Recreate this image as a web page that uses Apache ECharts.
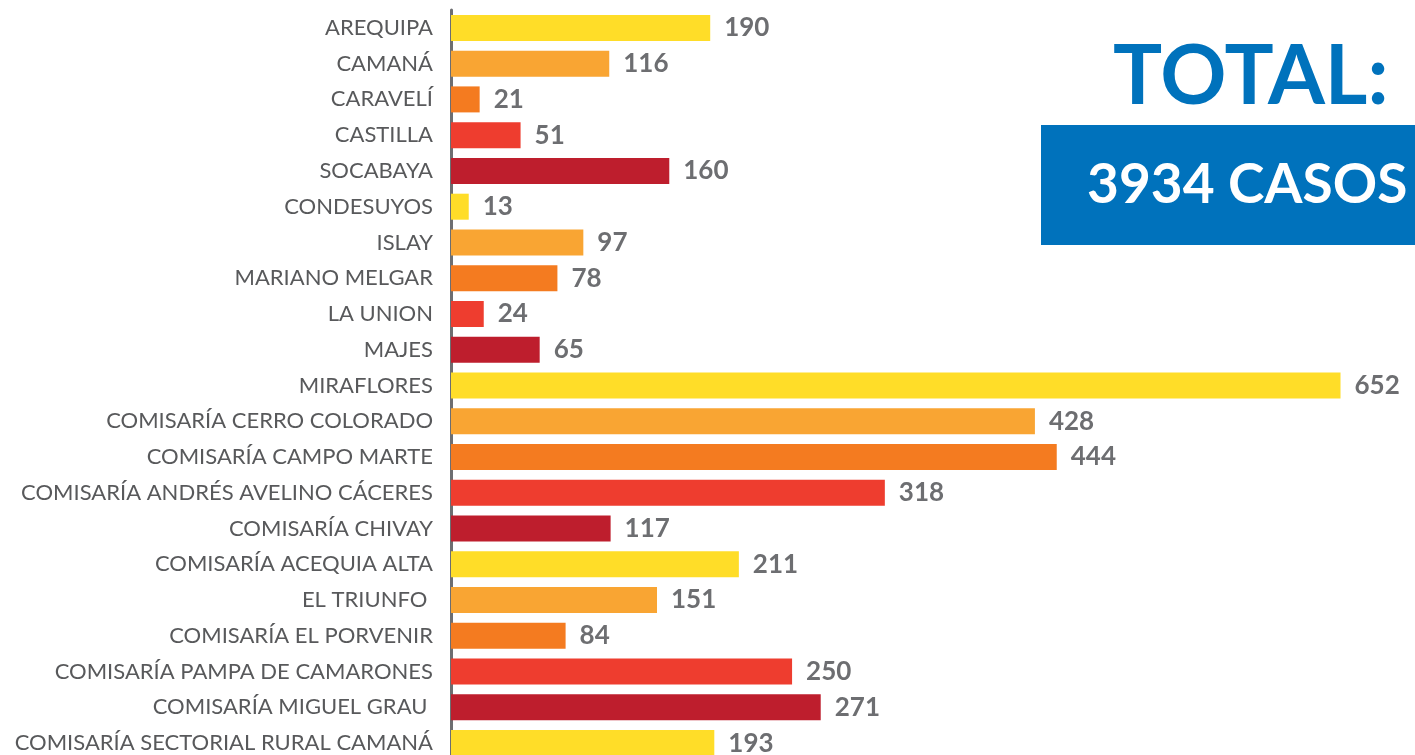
<!DOCTYPE html>
<html>
<head>
<meta charset="utf-8">
<script src="https://cdn.jsdelivr.net/npm/echarts@6/dist/echarts.min.js"></script>
<style>
  html, body { margin: 0; padding: 0; background: #fff; overflow: hidden; }
  #chart { width: 1415px; height: 775px; }
</style>
</head>
<body>
<div id="chart"></div>
<script>
// categorías (de arriba hacia abajo)
var categories = [
  "AREQUIPA", "CAMANÁ", "CARAVELÍ", "CASTILLA", "SOCABAYA", "CONDESUYOS",
  "ISLAY", "MARIANO MELGAR", "LA UNION", "MAJES", "MIRAFLORES",
  "COMISARÍA CERRO COLORADO", "COMISARÍA CAMPO MARTE",
  "COMISARÍA ANDRÉS AVELINO CÁCERES", "COMISARÍA CHIVAY",
  "COMISARÍA ACEQUIA ALTA", "EL TRIUNFO ", "COMISARÍA EL PORVENIR",
  "COMISARÍA PAMPA DE CAMARONES", "COMISARÍA MIGUEL GRAU ",
  "COMISARÍA SECTORIAL RURAL CAMANÁ"
];
// casos
var casos = [190, 116, 21, 51, 160, 13, 97, 78, 24, 65, 652, 428, 444, 318, 117, 211, 151, 84, 250, 271, 193];
var totalTexto = "3934 CASOS";
var colores = ["#FFDD28", "#F9A533", "#F47B20", "#EE3D2F", "#BE1E2D"];

var myChart = echarts.init(document.getElementById("chart"));

var option = {
  backgroundColor: "#fff",
  animation: false,
  grid: { left: 451, right: 9, top: 10, height: 751 },
  xAxis: {
    type: "value",
    min: 0,
    max: 700,
    show: false
  },
  yAxis: {
    type: "category",
    inverse: true,
    data: categories,
    axisLine: { show: true, lineStyle: { color: "#6D6E71", width: 3 } },
    axisTick: { show: false },
    axisLabel: {
      fontFamily: "Lato",
      fontSize: 22,
      color: "#58595B",
      margin: 18
    }
  },
  series: [
    {
      type: "bar",
      data: casos,
      barWidth: 26,
      itemStyle: {
        color: function (p) {
          return colores[p.dataIndex % 5];
        }
      },
      label: {
        show: true,
        position: "right",
        distance: 14,
        fontFamily: "Lato",
        fontWeight: "bold",
        fontSize: 26,
        color: "#6D6E71"
      }
    }
  ],
  graphic: [
    {
      type: "text",
      left: 1113,
      top: 37,
      style: {
        text: "TOTAL:",
        font: "bold 82px Lato",
        fill: "#0072BC"
      }
    },
    {
      type: "rect",
      shape: { x: 1041, y: 125, width: 374, height: 120 },
      style: { fill: "#0072BC" }
    },
    {
      type: "text",
      left: 1087,
      top: 158,
      style: {
        text: totalTexto,
        font: "bold 55px Lato",
        fill: "#fff"
      }
    }
  ]
};

myChart.setOption(option);
</script>
</body>
</html>
